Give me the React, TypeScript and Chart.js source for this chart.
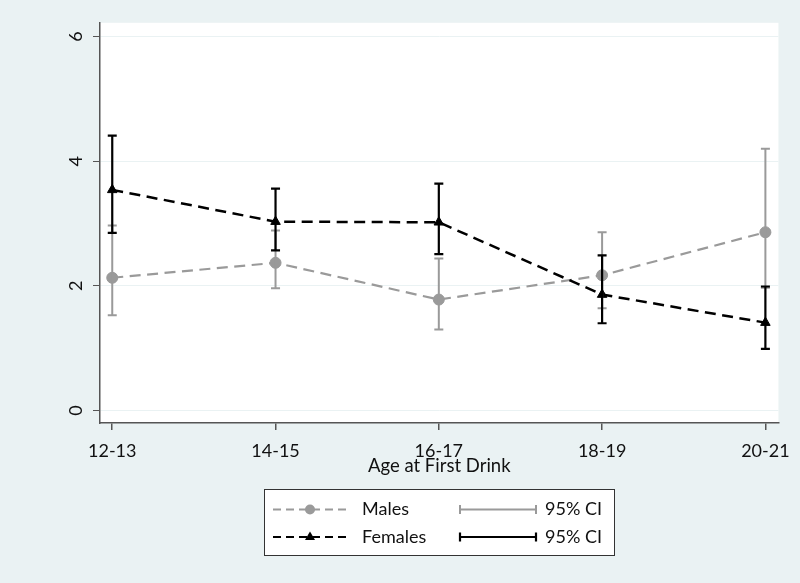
import React, { useEffect, useRef } from 'react';
import { Chart, registerables } from 'chart.js';

Chart.register(...registerables);

const categories = ['12-13', '14-15', '16-17', '18-19', '20-21'];
const malesMean = [2.13, 2.37, 1.78, 2.17, 2.86];
const malesLow = [1.53, 1.96, 1.30, 1.64, 1.97];
const malesHigh = [2.97, 2.89, 2.44, 2.86, 4.20];
const femalesMean = [3.54, 3.03, 3.02, 1.86, 1.41];
const femalesLow = [2.85, 2.57, 2.51, 1.40, 0.99];
const femalesHigh = [4.41, 3.56, 3.64, 2.49, 1.99];
const yTicks = [0, 2, 4, 6];
const xAxisTitle = 'Age at First Drink';
const seriesNames = ['Males', 'Females'];
const ciLabel = '95% CI';

const BG = '#eaf2f3';
const GRAY = '#9a9a9a';
const BLACK = '#000000';
const AXIS = '#555555';
const FONT = 'Lato';

function drawCI(ctx: CanvasRenderingContext2D, xs: any, ys: any, low: number[], high: number[], color: string, lw: number) {
  ctx.save();
  ctx.strokeStyle = color;
  ctx.lineWidth = lw;
  ctx.setLineDash([]);
  low.forEach((lo, i) => {
    const px = xs.getPixelForValue(i);
    const p1 = ys.getPixelForValue(lo);
    const p2 = ys.getPixelForValue(high[i]);
    ctx.beginPath();
    ctx.moveTo(px, p1);
    ctx.lineTo(px, p2);
    ctx.moveTo(px - 4.5, p1);
    ctx.lineTo(px + 4.5, p1);
    ctx.moveTo(px - 4.5, p2);
    ctx.lineTo(px + 4.5, p2);
    ctx.stroke();
  });
  ctx.restore();
}

const customPlugin = {
  id: 'customDraw',
  beforeDraw(chart: any) {
    const { ctx, chartArea: a, width, height } = chart;
    ctx.save();
    ctx.fillStyle = BG;
    ctx.fillRect(0, 0, width, height);
    ctx.fillStyle = '#ffffff';
    ctx.fillRect(a.left, a.top, a.right - a.left, a.bottom - a.top);
    ctx.restore();
  },
  afterDatasetsDraw(chart: any) {
    const { ctx } = chart;
    const xs = chart.scales.x;
    const ys = chart.scales.y;
    drawCI(ctx, xs, ys, malesLow, malesHigh, GRAY, 2);
    drawCI(ctx, xs, ys, femalesLow, femalesHigh, BLACK, 2.2);
  },
  afterDraw(chart: any) {
    const { ctx, chartArea: a } = chart;
    ctx.save();
    // axis title
    ctx.fillStyle = '#111';
    ctx.font = `18.5px ${FONT}`;
    ctx.textAlign = 'center';
    ctx.textBaseline = 'alphabetic';
    ctx.fillText(xAxisTitle, (a.left + a.right) / 2, 472);

    // legend box
    const bx = 264.5, by = 489.5, bw = 350, bh = 66;
    ctx.fillStyle = '#ffffff';
    ctx.fillRect(bx, by, bw, bh);
    ctx.strokeStyle = '#333';
    ctx.lineWidth = 1;
    ctx.strokeRect(bx, by, bw, bh);

    const rows = [
      { y: 509.5, color: GRAY, name: seriesNames[0], marker: 'circle', lw: 2 },
      { y: 537, color: BLACK, name: seriesNames[1], marker: 'triangle', lw: 2.2 },
    ];
    rows.forEach((r) => {
      ctx.strokeStyle = r.color;
      ctx.lineWidth = r.lw;
      ctx.setLineDash([8, 5]);
      ctx.beginPath();
      ctx.moveTo(273, r.y);
      ctx.lineTo(349, r.y);
      ctx.stroke();
      ctx.setLineDash([]);
      ctx.fillStyle = r.color;
      ctx.beginPath();
      if (r.marker === 'circle') {
        ctx.arc(310, r.y, 5, 0, Math.PI * 2);
      } else {
        ctx.moveTo(310, r.y - 5.5);
        ctx.lineTo(315, r.y + 3);
        ctx.lineTo(305, r.y + 3);
        ctx.closePath();
      }
      ctx.fill();
      // CI symbol
      ctx.beginPath();
      ctx.moveTo(460, r.y);
      ctx.lineTo(536, r.y);
      ctx.moveTo(460, r.y - 4.5);
      ctx.lineTo(460, r.y + 4.5);
      ctx.moveTo(536, r.y - 4.5);
      ctx.lineTo(536, r.y + 4.5);
      ctx.stroke();
      // texts
      ctx.fillStyle = '#111';
      ctx.font = `18px ${FONT}`;
      ctx.textAlign = 'left';
      ctx.textBaseline = 'middle';
      ctx.fillText(r.name, 362, r.y);
      ctx.fillText(ciLabel, 545, r.y);
    });
    ctx.restore();
  },
};

export default function App() {
  const canvasRef = useRef<HTMLCanvasElement | null>(null);

  useEffect(() => {
    document.body.style.margin = '0';
    const canvas = canvasRef.current;
    if (!canvas) return;
    Chart.defaults.font.family = FONT;
    const chart = new Chart(canvas, {
      type: 'line',
      data: {
        datasets: [
          {
            label: seriesNames[1],
            data: femalesMean.map((v, i) => ({ x: i, y: v })),
            borderColor: BLACK,
            backgroundColor: BLACK,
            borderWidth: 2.5,
            borderDash: [11, 6.5],
            pointStyle: 'triangle',
            pointRadius: 5.5,
            pointBackgroundColor: BLACK,
            pointBorderColor: BLACK,
            pointBorderWidth: 1,
            tension: 0,
            fill: false,
          },
          {
            label: seriesNames[0],
            data: malesMean.map((v, i) => ({ x: i, y: v })),
            borderColor: GRAY,
            backgroundColor: GRAY,
            borderWidth: 2.2,
            borderDash: [11, 6.5],
            pointStyle: 'circle',
            pointRadius: 5.5,
            pointBackgroundColor: GRAY,
            pointBorderColor: GRAY,
            pointBorderWidth: 1,
            tension: 0,
            fill: false,
          },
        ],
      },
      options: {
        animation: false,
        responsive: false,
        events: [],
        layout: { padding: { top: 20, right: 20, left: 0, bottom: 0 } },
        plugins: { legend: { display: false }, tooltip: { enabled: false } },
        scales: {
          x: {
            type: 'linear',
            min: -0.075,
            max: 4.08,
            afterBuildTicks: (s: any) => {
              s.ticks = categories.map((_, i) => ({ value: i }));
            },
            afterFit: (s: any) => {
              s.height = 160;
            },
            grid: { drawOnChartArea: false, color: AXIS, lineWidth: 1.5, tickLength: 7 },
            border: { color: AXIS, width: 1.5 },
            ticks: {
              callback: (v: any) => categories[v],
              font: { family: FONT, size: 18 },
              color: '#111',
              padding: 10,
              maxRotation: 0,
              autoSkip: false,
            },
          },
          y: {
            type: 'linear',
            min: -0.2,
            max: 6.22,
            afterBuildTicks: (s: any) => {
              s.ticks = yTicks.map((v) => ({ value: v }));
            },
            afterFit: (s: any) => {
              s.width = 100;
            },
            grid: { color: BG, tickColor: AXIS, lineWidth: 1, tickLength: 7 },
            border: { color: AXIS, width: 1.5 },
            ticks: {
              callback: (v: any) => String(v),
              font: { family: FONT, size: 18 },
              color: '#111',
              minRotation: 90,
              maxRotation: 90,
              crossAlign: 'center',
              padding: 12,
            },
          },
        },
      },
      plugins: [customPlugin],
    } as any);
    return () => chart.destroy();
  }, []);

  return (
    <div style={{ position: 'absolute', left: 0, top: 0, width: 800, height: 583 }}>
      <canvas ref={canvasRef} width={800} height={583} style={{ width: 800, height: 583, display: 'block' }} />
    </div>
  );
}
